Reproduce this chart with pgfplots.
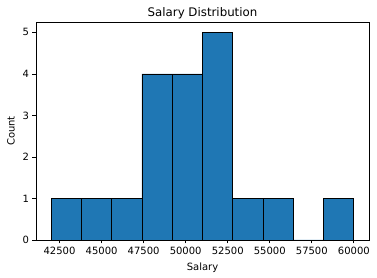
\documentclass[border=0pt]{standalone}
\usepackage{fontspec}
\setmainfont{DejaVu Sans}
\usepackage{pgfplots}
\pgfplotsset{compat=1.18}
\definecolor{mplblue}{HTML}{1F77B4}
\begin{document}
\begin{tikzpicture}
\begin{axis}[
  name=ax,
  scale only axis,
  width=333pt, height=218pt,
  xmin=41100, xmax=60900,
  ymin=0, ymax=5.25,
  xtick={42500,45000,47500,50000,52500,55000,57500,60000},
  ytick={0,1,2,3,4,5},
  /pgf/number format/1000 sep={},
  /pgf/number format/assume math mode=true,
  tick align=outside,
  major tick length=3.5pt,
  tick style={black, line width=0.8pt},
  xtick pos=bottom, ytick pos=left,
  axis line style={black, line width=0.8pt},
  ticklabel style={font=\fontsize{10}{12}\selectfont},
  label style={font=\fontsize{10}{12}\selectfont},
  title style={font=\fontsize{11.8}{13}\selectfont, yshift=-6pt},
  title={Salary Distribution},
  xlabel={Salary},
  ylabel={Count},
  xlabel style={yshift=-1pt},
  ylabel style={yshift=1pt},
  scaled x ticks=false,
]
\addplot[ybar interval, fill=mplblue, draw=black, line width=0.8pt] coordinates {
(42000,1) (43800,1) (45600,1) (47400,4) (49200,4) (51000,5) (52800,1) (54600,1) (56400,0) (58200,1) (60000,1)
};
\end{axis}
\path ([xshift=-36pt,yshift=-38pt]ax.south west) rectangle ([xshift=8pt,yshift=22pt]ax.north east);
\end{tikzpicture}
\end{document}
